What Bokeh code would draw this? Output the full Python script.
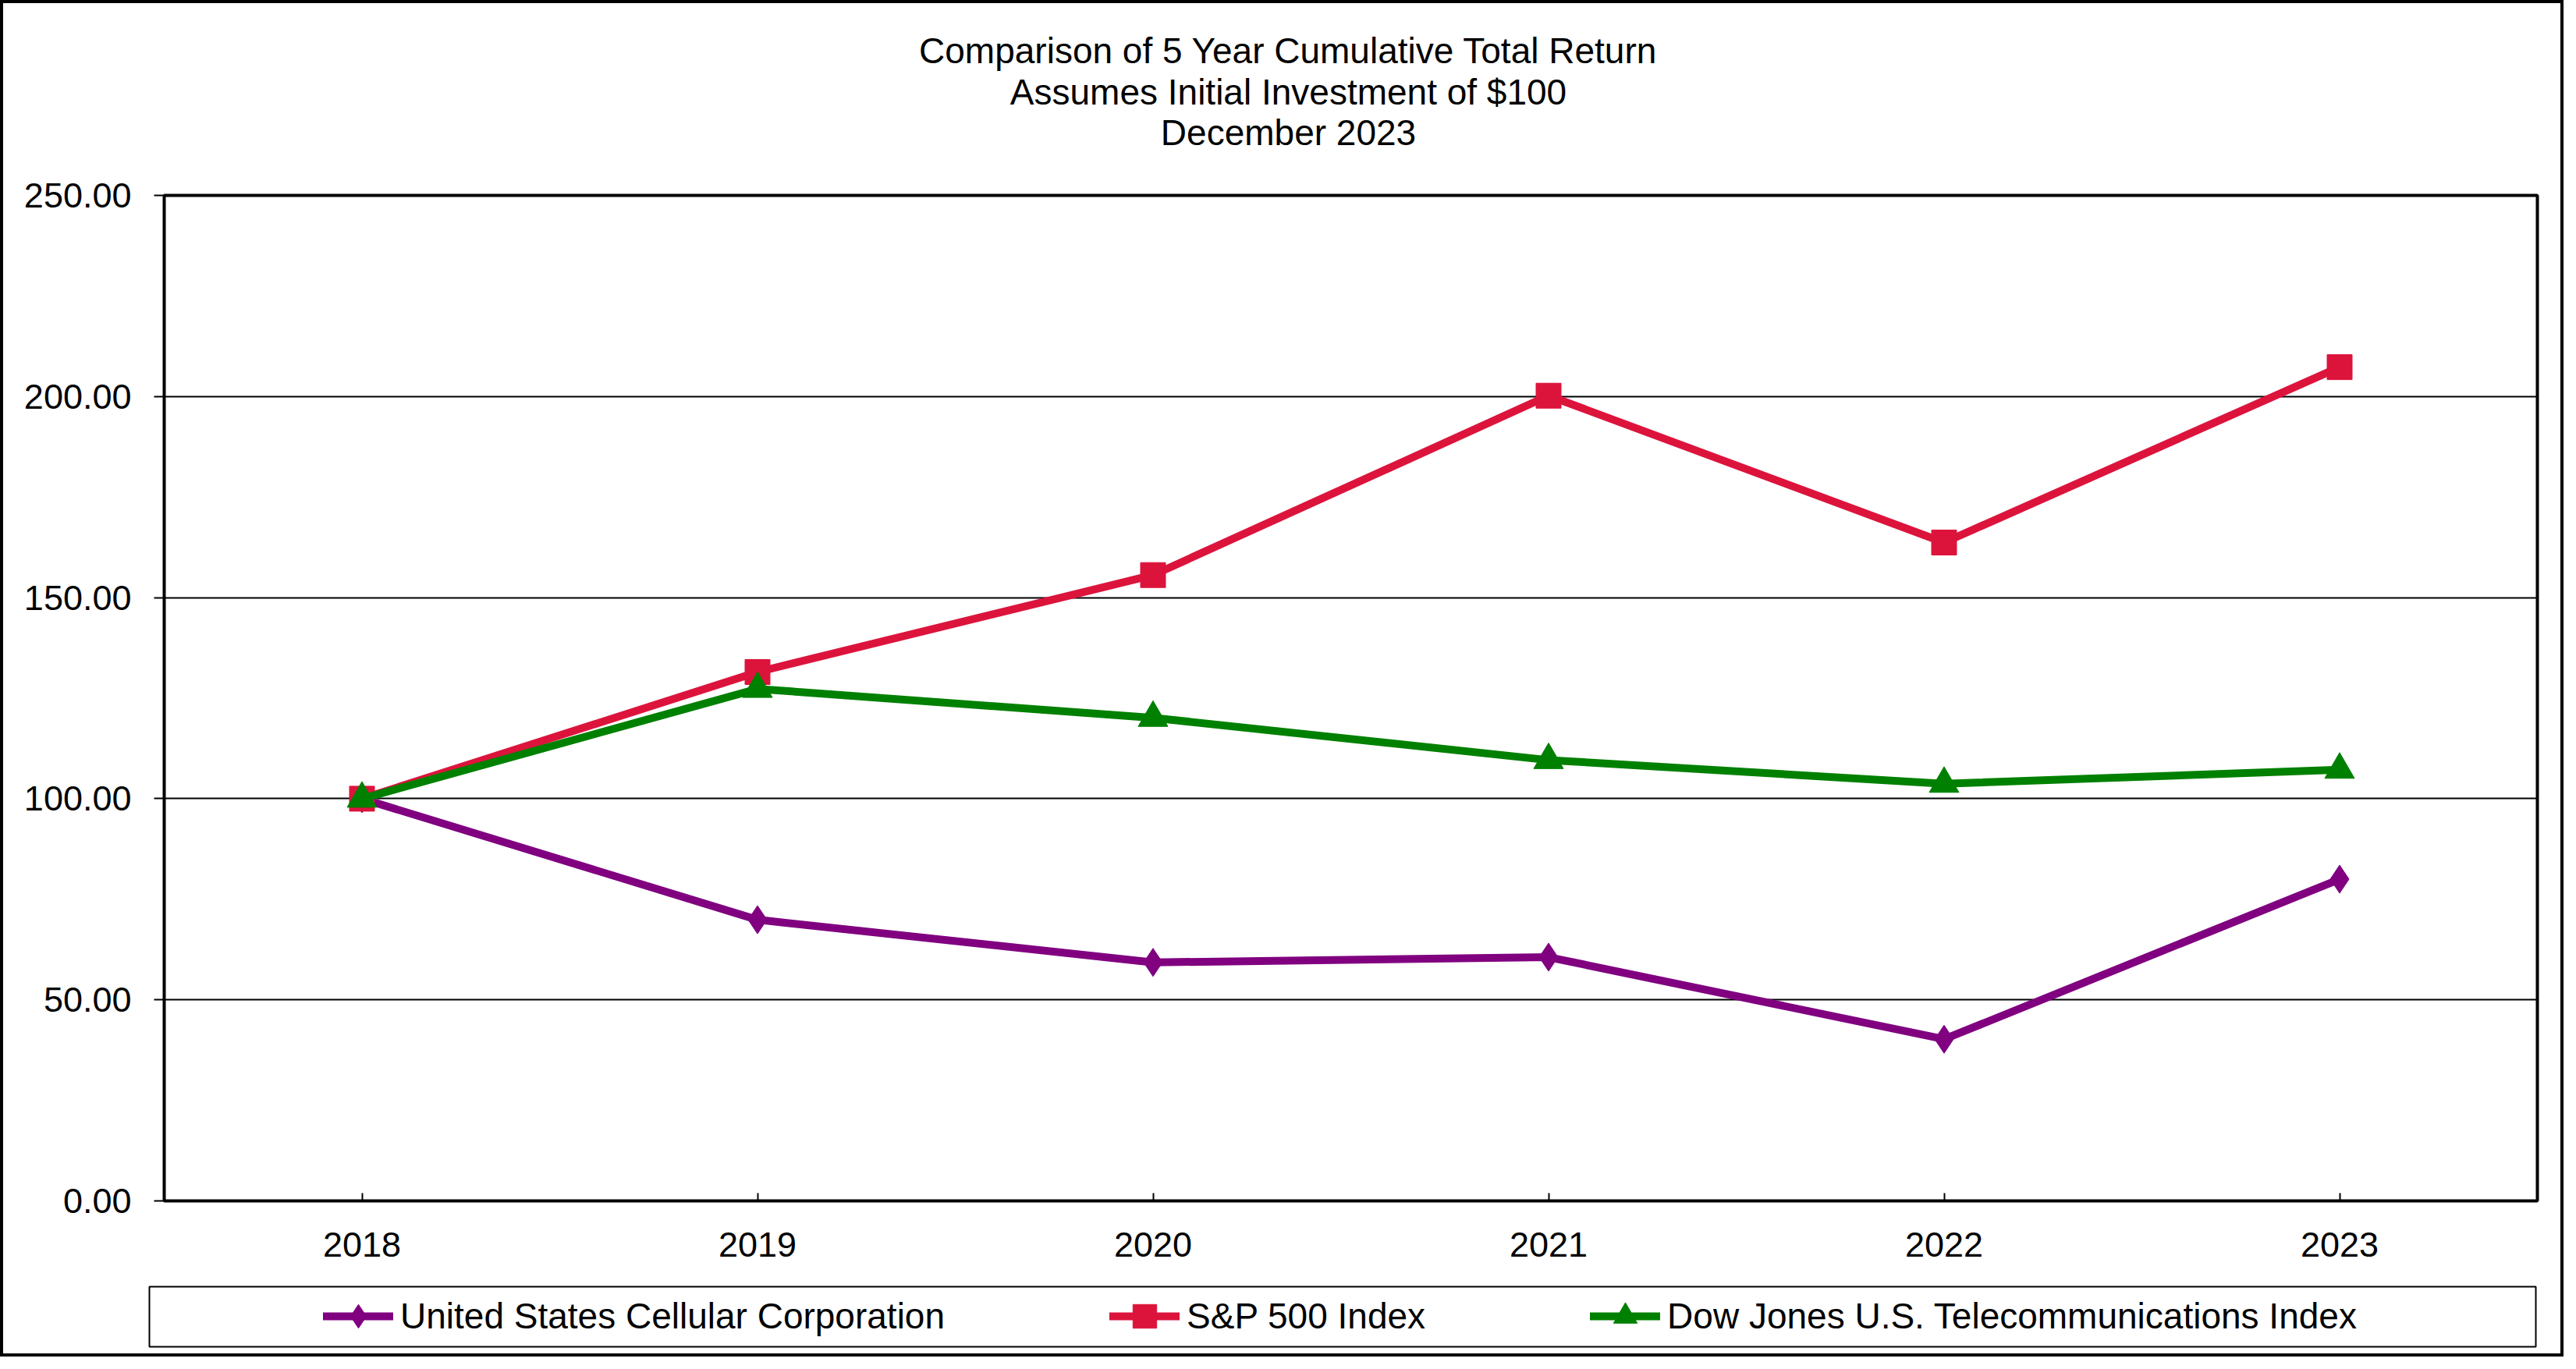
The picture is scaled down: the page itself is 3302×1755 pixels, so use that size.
from bokeh.plotting import figure
from bokeh.layouts import column
from bokeh.models import (Range1d, FixedTicker, PrintfTickFormatter, Legend,
                          LegendItem, Label)
from bokeh.embed import file_html
from bokeh.resources import INLINE

# ---- data ----
years = [2018, 2019, 2020, 2021, 2022, 2023]
x_tick_labels = ["2018", "2019", "2020", "2021", "2022", "2023"]
uscc = [100.00, 69.9, 59.3, 60.6, 40.2, 80.0]
sp500 = [100.00, 131.5, 155.6, 200.2, 163.7, 207.3]
dj_telecom = [100.00, 127.3, 120.1, 109.6, 103.7, 107.2]
y_ticks = [0, 50, 100, 150, 200, 250]
series_names = ["United States Cellular Corporation", "S&P 500 Index",
                "Dow Jones U.S. Telecommunications Index"]
title_lines = ["Comparison of 5 Year Cumulative Total Return",
               "Assumes Initial Investment of $100",
               "December 2023"]

FONT = "Liberation Sans"
CW = 3278            # content width (inside 4px border)
colors = ["#800080", "#DC143C", "#008000"]
markers = ["diamond", "square", "triangle"]
sizes = [36, 32, 38]
legend_sizes = [30, 30, 32]
data = [uscc, sp500, dj_telecom]

# ---------- title strip ----------
HC = 200
pc = figure(width=CW, height=HC, output_backend="svg", toolbar_location=None,
            x_axis_location=None, y_axis_location=None,
            x_range=Range1d(0, 1), y_range=Range1d(0, 1), min_border=0,
            frame_align=False)
pc.title.visible = False
pc.outline_line_color = None
pc.grid.visible = False
for line_txt, cy in zip(title_lines, [60, 113, 165]):
    pc.add_layout(Label(x=1647, y=HC - cy, x_units="screen", y_units="screen",
                        text=line_txt, text_align="center", text_baseline="middle",
                        text_font=FONT, text_font_size="46px", text_color="black"))

# ---------- main chart ----------
HA = 1440
FL, FT, FR, FB = 206, 46, 3248, 1335
p = figure(width=CW, height=HA, output_backend="svg", toolbar_location=None,
           x_range=Range1d(2017.5, 2023.5), y_range=Range1d(0, 250),
           min_border_left=FL, min_border_top=FT,
           min_border_right=CW - FR, min_border_bottom=HA - FB,
           background_fill_color="white", border_fill_color="white",
           frame_align=False)
p.title.visible = False
p.outline_line_color = "black"
p.outline_line_width = 4

p.yaxis.ticker = FixedTicker(ticks=y_ticks)
p.yaxis.formatter = PrintfTickFormatter(format="%.2f")
p.yaxis.major_label_text_font = FONT
p.yaxis.major_label_text_font_size = "45px"
p.yaxis.major_label_text_color = "black"
p.yaxis.major_tick_out = 13
p.yaxis.major_tick_in = 0
p.yaxis.major_tick_line_width = 2
p.yaxis.major_tick_line_color = "black"
p.yaxis.minor_tick_line_color = None
p.yaxis.axis_line_color = None
p.yaxis.major_label_standoff = 29

p.xaxis.ticker = FixedTicker(ticks=years)
p.xaxis.major_label_overrides = {y: l for y, l in zip(years, x_tick_labels)}
p.xaxis.major_label_text_font = FONT
p.xaxis.major_label_text_font_size = "45px"
p.xaxis.major_label_text_color = "black"
p.xaxis.major_tick_in = 10
p.xaxis.major_tick_out = 0
p.xaxis.major_tick_line_width = 2
p.xaxis.major_tick_line_color = "black"
p.xaxis.minor_tick_line_color = None
p.xaxis.axis_line_color = None
p.xaxis.major_label_standoff = 40

p.xgrid.visible = False
p.ygrid.grid_line_color = "black"
p.ygrid.grid_line_width = 2

for name, vals, c, m, s in zip(series_names, data, colors, markers, sizes):
    p.line(years, vals, line_color=c, line_width=10)
    p.scatter(years, vals, marker=m, size=s, fill_color=c, line_color=c)

# ---------- legend strip ----------
HB = 1731 - HC - HA
LT, LB, LL, LR = 5, 82, 187, 3246
pb = figure(width=CW, height=HB, output_backend="svg", toolbar_location=None,
            x_axis_location=None, y_axis_location=None,
            x_range=Range1d(0, 1), y_range=Range1d(0, 1),
            min_border_left=LL, min_border_right=CW - LR,
            min_border_top=LT, min_border_bottom=HB - LB,
            frame_align=False)
pb.title.visible = False
pb.grid.visible = False
pb.outline_line_color = "black"
pb.outline_line_width = 2

items = []
for name, vals, c, m, s in zip(series_names, data, colors, markers, legend_sizes):
    lr = pb.line(years, vals, line_color=c, line_width=10, line_cap="round")
    sr = pb.scatter(years, vals, marker=m, size=s, fill_color=c, line_color=c)
    items.append(LegendItem(label=name, renderers=[lr, sr]))

legend = Legend(items=items, orientation="horizontal", location=(223, 1),
                margin=0, padding=0, spacing=211, glyph_width=90, glyph_height=76,
                label_standoff=9, label_text_font=FONT, label_text_font_size="46px",
                label_text_color="black", border_line_alpha=0,
                background_fill_alpha=0)
pb.add_layout(legend)

layout = column(pc, p, pb, spacing=0, styles={"border": "4px solid black"})

open("out.html", "w").write(file_html(layout, INLINE))
